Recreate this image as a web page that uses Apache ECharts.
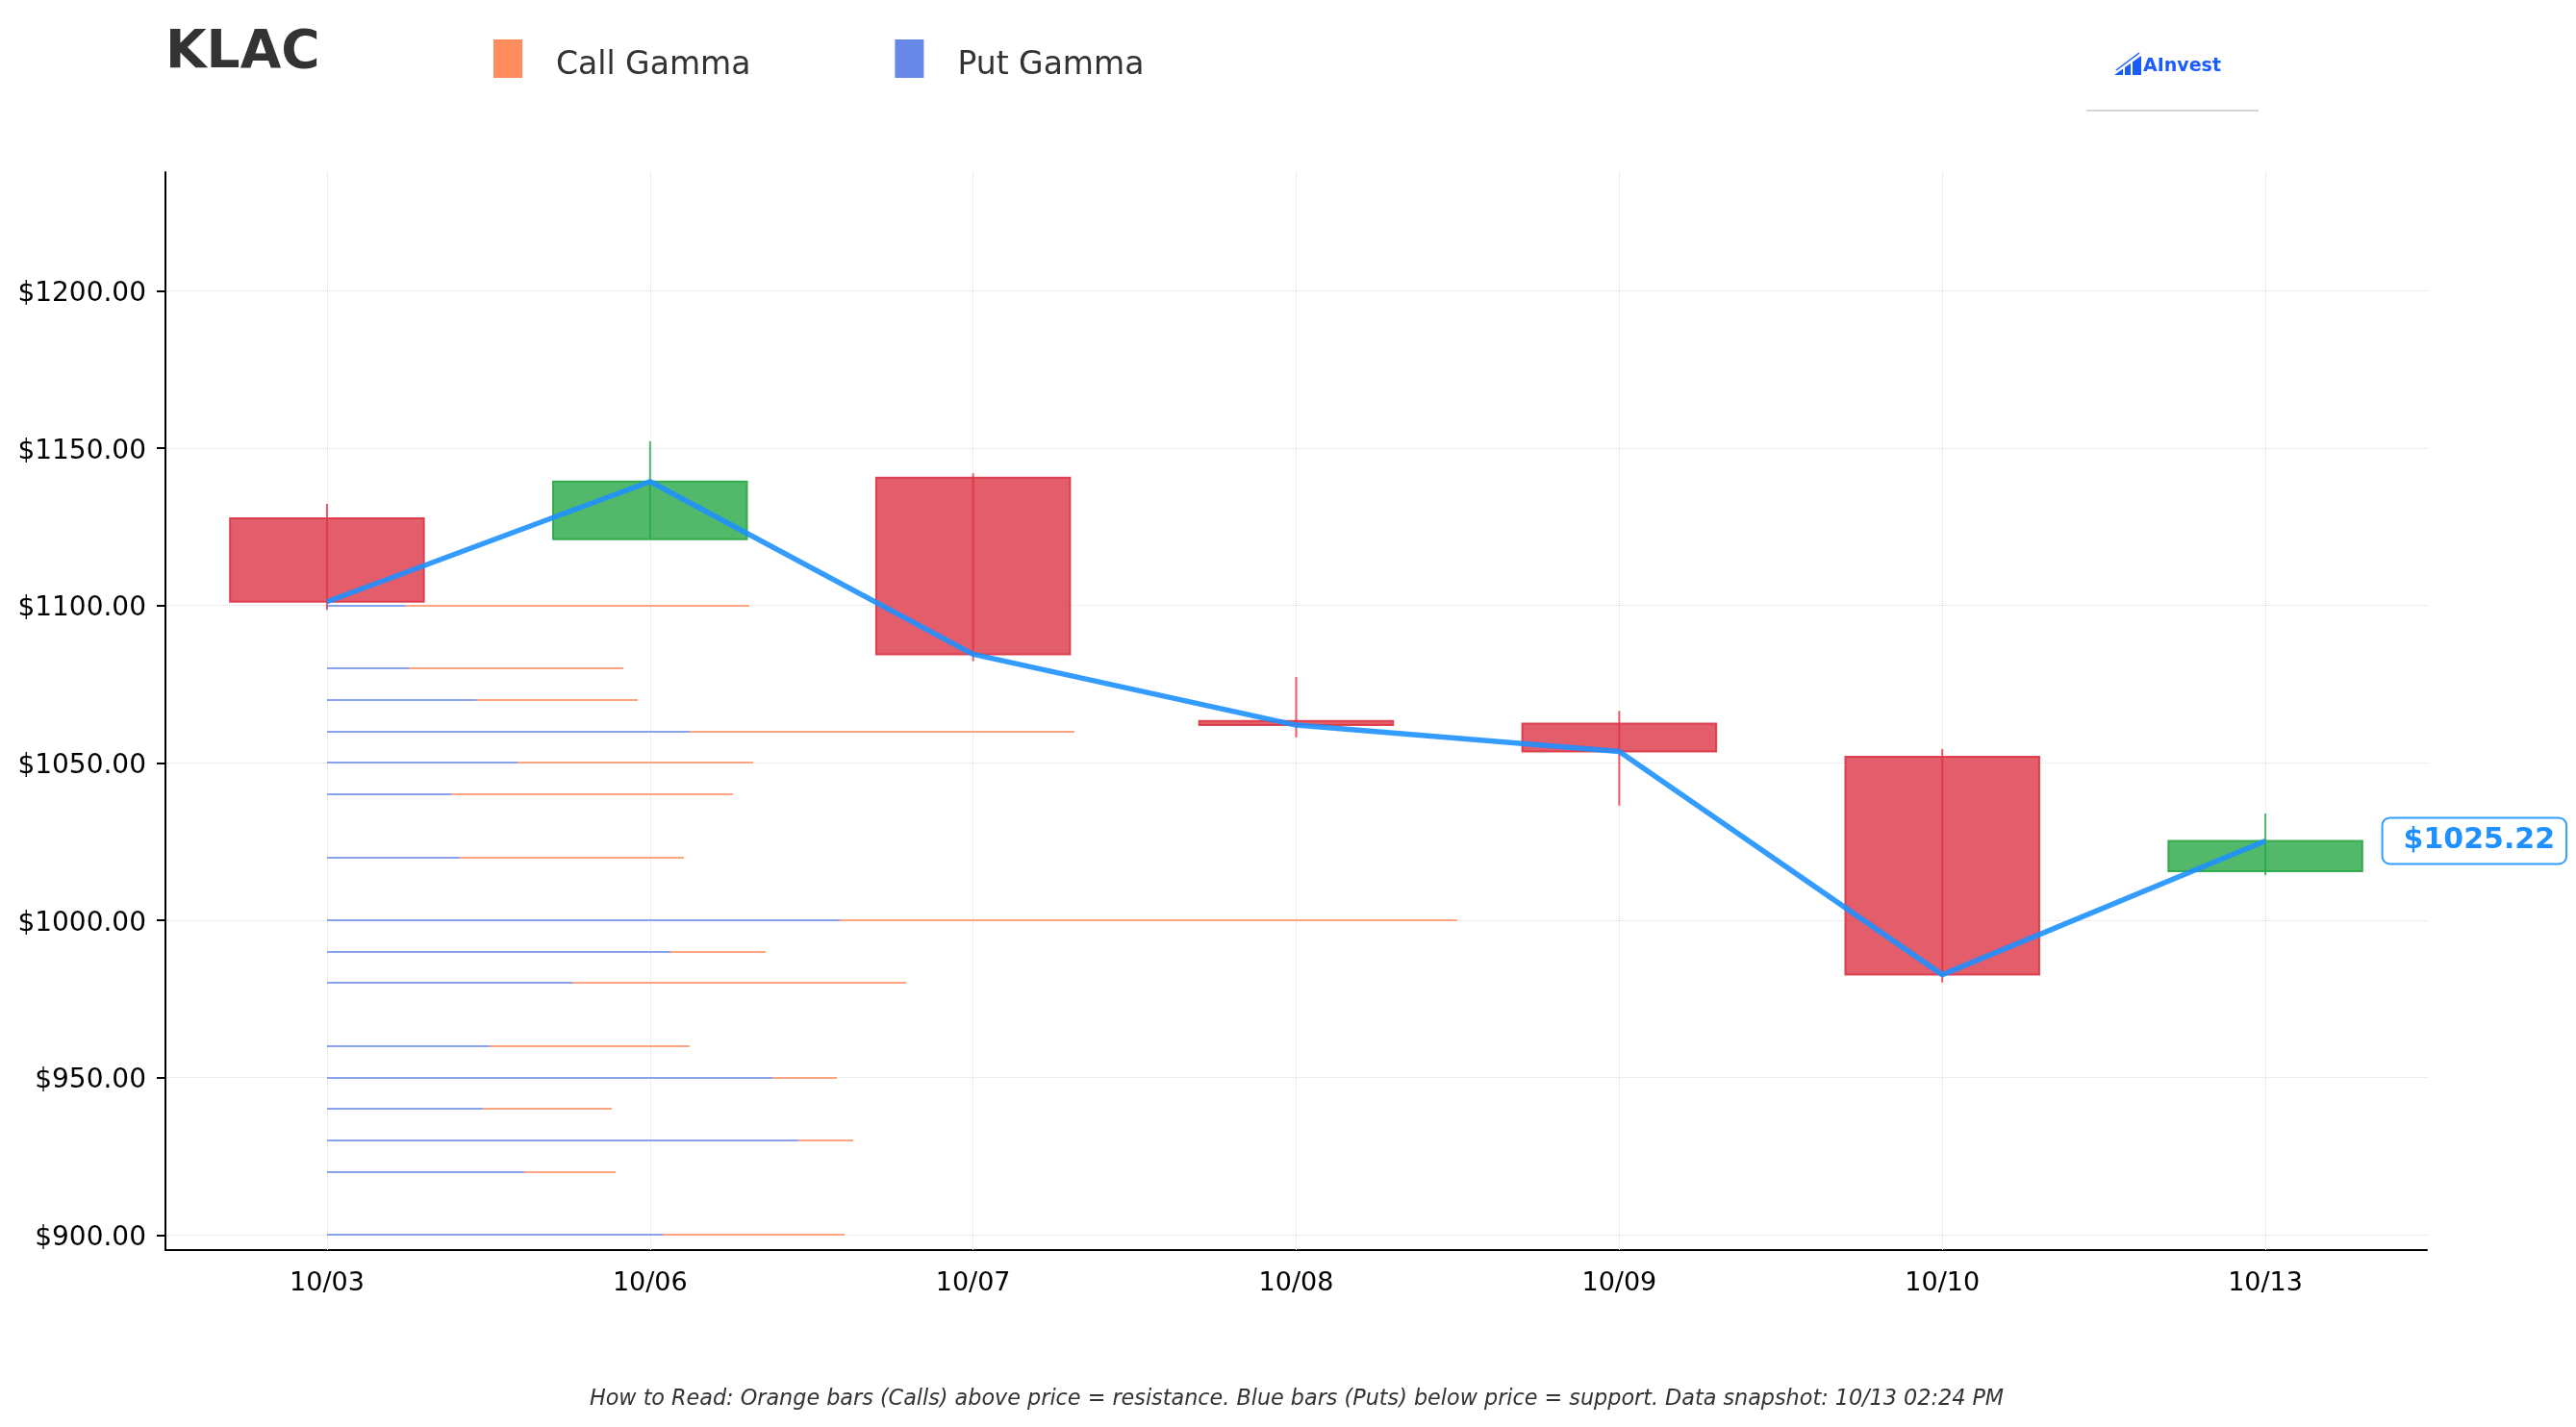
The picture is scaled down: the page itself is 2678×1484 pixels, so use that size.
<!DOCTYPE html>
<html>
<head>
<meta charset="utf-8">
<script src="https://cdn.jsdelivr.net/npm/echarts@6/dist/echarts.min.js"></script>
<style>
  html, body { margin: 0; padding: 0; background: #fff; }
  #chart { width: 2678px; height: 1484px; }
</style>
</head>
<body>
<div id="chart"></div>
<script>
  // daily candles
  var dates  = ['10/03', '10/06', '10/07', '10/08', '10/09', '10/10', '10/13'];
  var opens  = [1127.7, 1121.1, 1140.6, 1063.3, 1062.5, 1051.9, 1015.6];
  var closes = [1101.2, 1139.4, 1084.5, 1062.0, 1053.6, 982.7, 1025.22];
  var lows   = [1098.6, 1121.1, 1082.3, 1058.1, 1036.4, 980.2, 1014.3];
  var highs  = [1132.3, 1152.2, 1142.0, 1077.3, 1066.5, 1054.4, 1033.9];

  // gamma by strike (relative units)
  var strikes   = [1100, 1080, 1070, 1060, 1050, 1040, 1020, 1000, 990, 980, 960, 950, 940, 930, 920, 900];
  var callGamma = [43.9, 30.8, 32.3, 77.7, 44.3, 42.2, 37.1, 117.5, 45.6, 60.2, 37.7, 53.0, 29.6, 54.7, 30.0, 53.8];
  var putGamma  = [8.1, 8.5, 15.5, 37.7, 19.8, 12.9, 13.8, 53.3, 35.7, 25.5, 16.9, 46.3, 16.2, 49.0, 20.5, 34.9];

  var priceTicks = [900, 950, 1000, 1050, 1100, 1150, 1200];
  var lastPrice = 1025.22;

  var chart = echarts.init(document.getElementById('chart'));

  // legend marker: 30x40 box, padded below so the label sits lower
  var legendIcon = 'path://M0,0h30v40h-30z M0,54h0.01v0.01h-0.01z';

  function gammaBar(params, api) {
    var start = api.coord([0, api.value(1)]);
    var end = api.coord([api.value(0), api.value(1)]);
    return {
      type: 'rect',
      shape: { x: start[0], y: Math.round(start[1]) - 1, width: end[0] - start[0], height: 2 },
      style: api.style()
    };
  }

  function candle(params, api) {
    var i = api.value(0);
    var o = api.coord([i, api.value(1)]);
    var c = api.coord([i, api.value(2)]);
    var l = api.coord([i, api.value(3)]);
    var h = api.coord([i, api.value(4)]);
    var w = api.size([1, 0])[0] * 0.6;
    var col = api.value(2) >= api.value(1) ? '40,167,69' : '220,53,69';
    var top = Math.min(o[1], c[1]);
    return {
      type: 'group',
      children: [
        {
          type: 'rect',
          shape: { x: o[0] - w / 2, y: top, width: w, height: Math.max(Math.abs(o[1] - c[1]), 1) },
          style: { fill: 'rgba(' + col + ',0.8)', stroke: 'rgba(' + col + ',0.9)', lineWidth: 2 }
        },
        {
          type: 'line',
          shape: { x1: h[0], y1: h[1], x2: l[0], y2: l[1] },
          style: { stroke: 'rgba(' + col + ',0.8)', lineWidth: 2 }
        }
      ]
    };
  }

  var candleData = dates.map(function (d, i) {
    return [i, opens[i], closes[i], lows[i], highs[i]];
  });
  var callData = strikes.map(function (s, i) { return [callGamma[i], s]; });
  var putData = strikes.map(function (s, i) { return [putGamma[i], s]; });

  var option = {
    animation: false,
    textStyle: { fontFamily: 'DejaVu Sans' },
    title: {
      text: 'KLAC',
      left: 167,
      top: 23,
      textStyle: { fontSize: 55, fontWeight: 'bold', color: '#333' }
    },
    legend: {
      left: 508,
      top: 36,
      itemWidth: 30,
      itemHeight: 54,
      itemGap: 150,
      icon: legendIcon,
      textStyle: { fontSize: 33, color: '#333', padding: [0, 0, 0, 30] },
      data: [
        { name: 'Call Gamma', itemStyle: { color: '#FF8C5C', opacity: 1 } },
        { name: 'Put Gamma', itemStyle: { color: '#6788E6', opacity: 1 } }
      ]
    },
    grid: { left: 172, right: 155, top: 179, bottom: 184 },
    xAxis: [
      {
        type: 'category',
        data: dates,
        boundaryGap: true,
        axisLine: { lineStyle: { color: '#000', width: 2 } },
        axisTick: { alignWithLabel: true, length: 9, lineStyle: { color: '#000', width: 2 } },
        axisLabel: { fontSize: 27, color: '#000', margin: 21 },
        splitLine: { show: false }
      },
      {
        type: 'value',
        min: -16.8,
        max: 218.3,
        show: false
      }
    ],
    yAxis: {
      type: 'value',
      min: 895.2,
      max: 1237.7,
      axisLine: { show: true, onZero: false, lineStyle: { color: '#000', width: 2 } },
      axisTick: { show: true, length: 9, customValues: priceTicks, lineStyle: { color: '#000', width: 2 } },
      axisLabel: {
        fontSize: 28,
        color: '#000',
        margin: 20,
        verticalAlign: 'top',
        lineHeight: 7,
        customValues: priceTicks,
        formatter: function (v) { return '$' + v.toFixed(2); }
      },
      splitLine: { show: true, lineStyle: { type: 'dotted', color: '#dddddd', width: 1 } }
    },
    series: [
      {
        name: 'Call Gamma',
        type: 'custom',
        xAxisIndex: 1,
        renderItem: gammaBar,
        encode: { x: 0, y: 1 },
        itemStyle: { color: '#FFA483' },
        data: callData,
        z: 2
      },
      {
        name: 'Put Gamma',
        type: 'custom',
        xAxisIndex: 1,
        renderItem: gammaBar,
        encode: { x: 0, y: 1 },
        itemStyle: { color: '#88A3EC' },
        data: putData,
        z: 3
      },
      {
        name: 'OHLC',
        type: 'custom',
        renderItem: candle,
        encode: { x: 0, y: [1, 2, 3, 4] },
        data: candleData,
        z: 4,
        markLine: {
          silent: true,
          z: 1,
          symbol: 'none',
          label: { show: false },
          lineStyle: { type: 'dotted', color: '#dddddd', width: 1 },
          data: dates.map(function (d) { return { xAxis: d }; })
        }
      },
      {
        name: 'Price',
        type: 'line',
        data: closes,
        symbol: 'none',
        lineStyle: { color: 'rgba(30,144,255,0.9)', width: 5.5 },
        z: 5,
        markPoint: {
          symbol: 'circle',
          symbolSize: 1,
          itemStyle: { color: 'rgba(0,0,0,0)' },
          data: [{ coord: [dates.length - 1, lastPrice], value: lastPrice }],
          label: {
            show: true,
            position: 'right',
            distance: 122,
            formatter: function (p) { return '$' + p.value.toFixed(2); },
            fontSize: 30,
            fontWeight: 'bold',
            color: '#1E90FF',
            backgroundColor: '#fff',
            borderColor: 'rgba(30,144,255,0.9)',
            borderWidth: 2,
            borderRadius: 7,
            padding: [8, 11, 8, 21]
          }
        }
      }
    ],
    graphic: [
      // logo
      { type: 'polygon', shape: { points: [[2198, 78], [2226, 78], [2226, 58]] }, style: { fill: '#1A5CFF' } },
      { type: 'line', shape: { x1: 2208, y1: 79, x2: 2208, y2: 69 }, style: { stroke: '#fff', lineWidth: 2 } },
      { type: 'line', shape: { x1: 2216, y1: 79, x2: 2216, y2: 63 }, style: { stroke: '#fff', lineWidth: 2 } },
      { type: 'line', shape: { x1: 2200, y1: 73, x2: 2224, y2: 55 }, style: { stroke: '#1A5CFF', lineWidth: 1.5 } },
      {
        type: 'text', x: 2228, y: 69,
        style: { text: 'AInvest', fontSize: 19, fontWeight: 'bold', fill: '#1A5CFF', textVerticalAlign: 'middle', fontFamily: 'DejaVu Sans' }
      },
      { type: 'line', shape: { x1: 2169, y1: 115, x2: 2348, y2: 115 }, style: { stroke: '#c8c8c8', lineWidth: 1.5 } },
      // footer note
      {
        type: 'text', x: 1348, y: 1455,
        style: {
          text: 'How to Read: Orange bars (Calls) above price = resistance. Blue bars (Puts) below price = support. Data snapshot: 10/13 02:24 PM',
          fontSize: 22.3, fontStyle: 'italic', fill: '#333', textAlign: 'center', textVerticalAlign: 'middle', fontFamily: 'DejaVu Sans'
        }
      }
    ]
  };

  chart.setOption(option);
</script>
</body>
</html>
